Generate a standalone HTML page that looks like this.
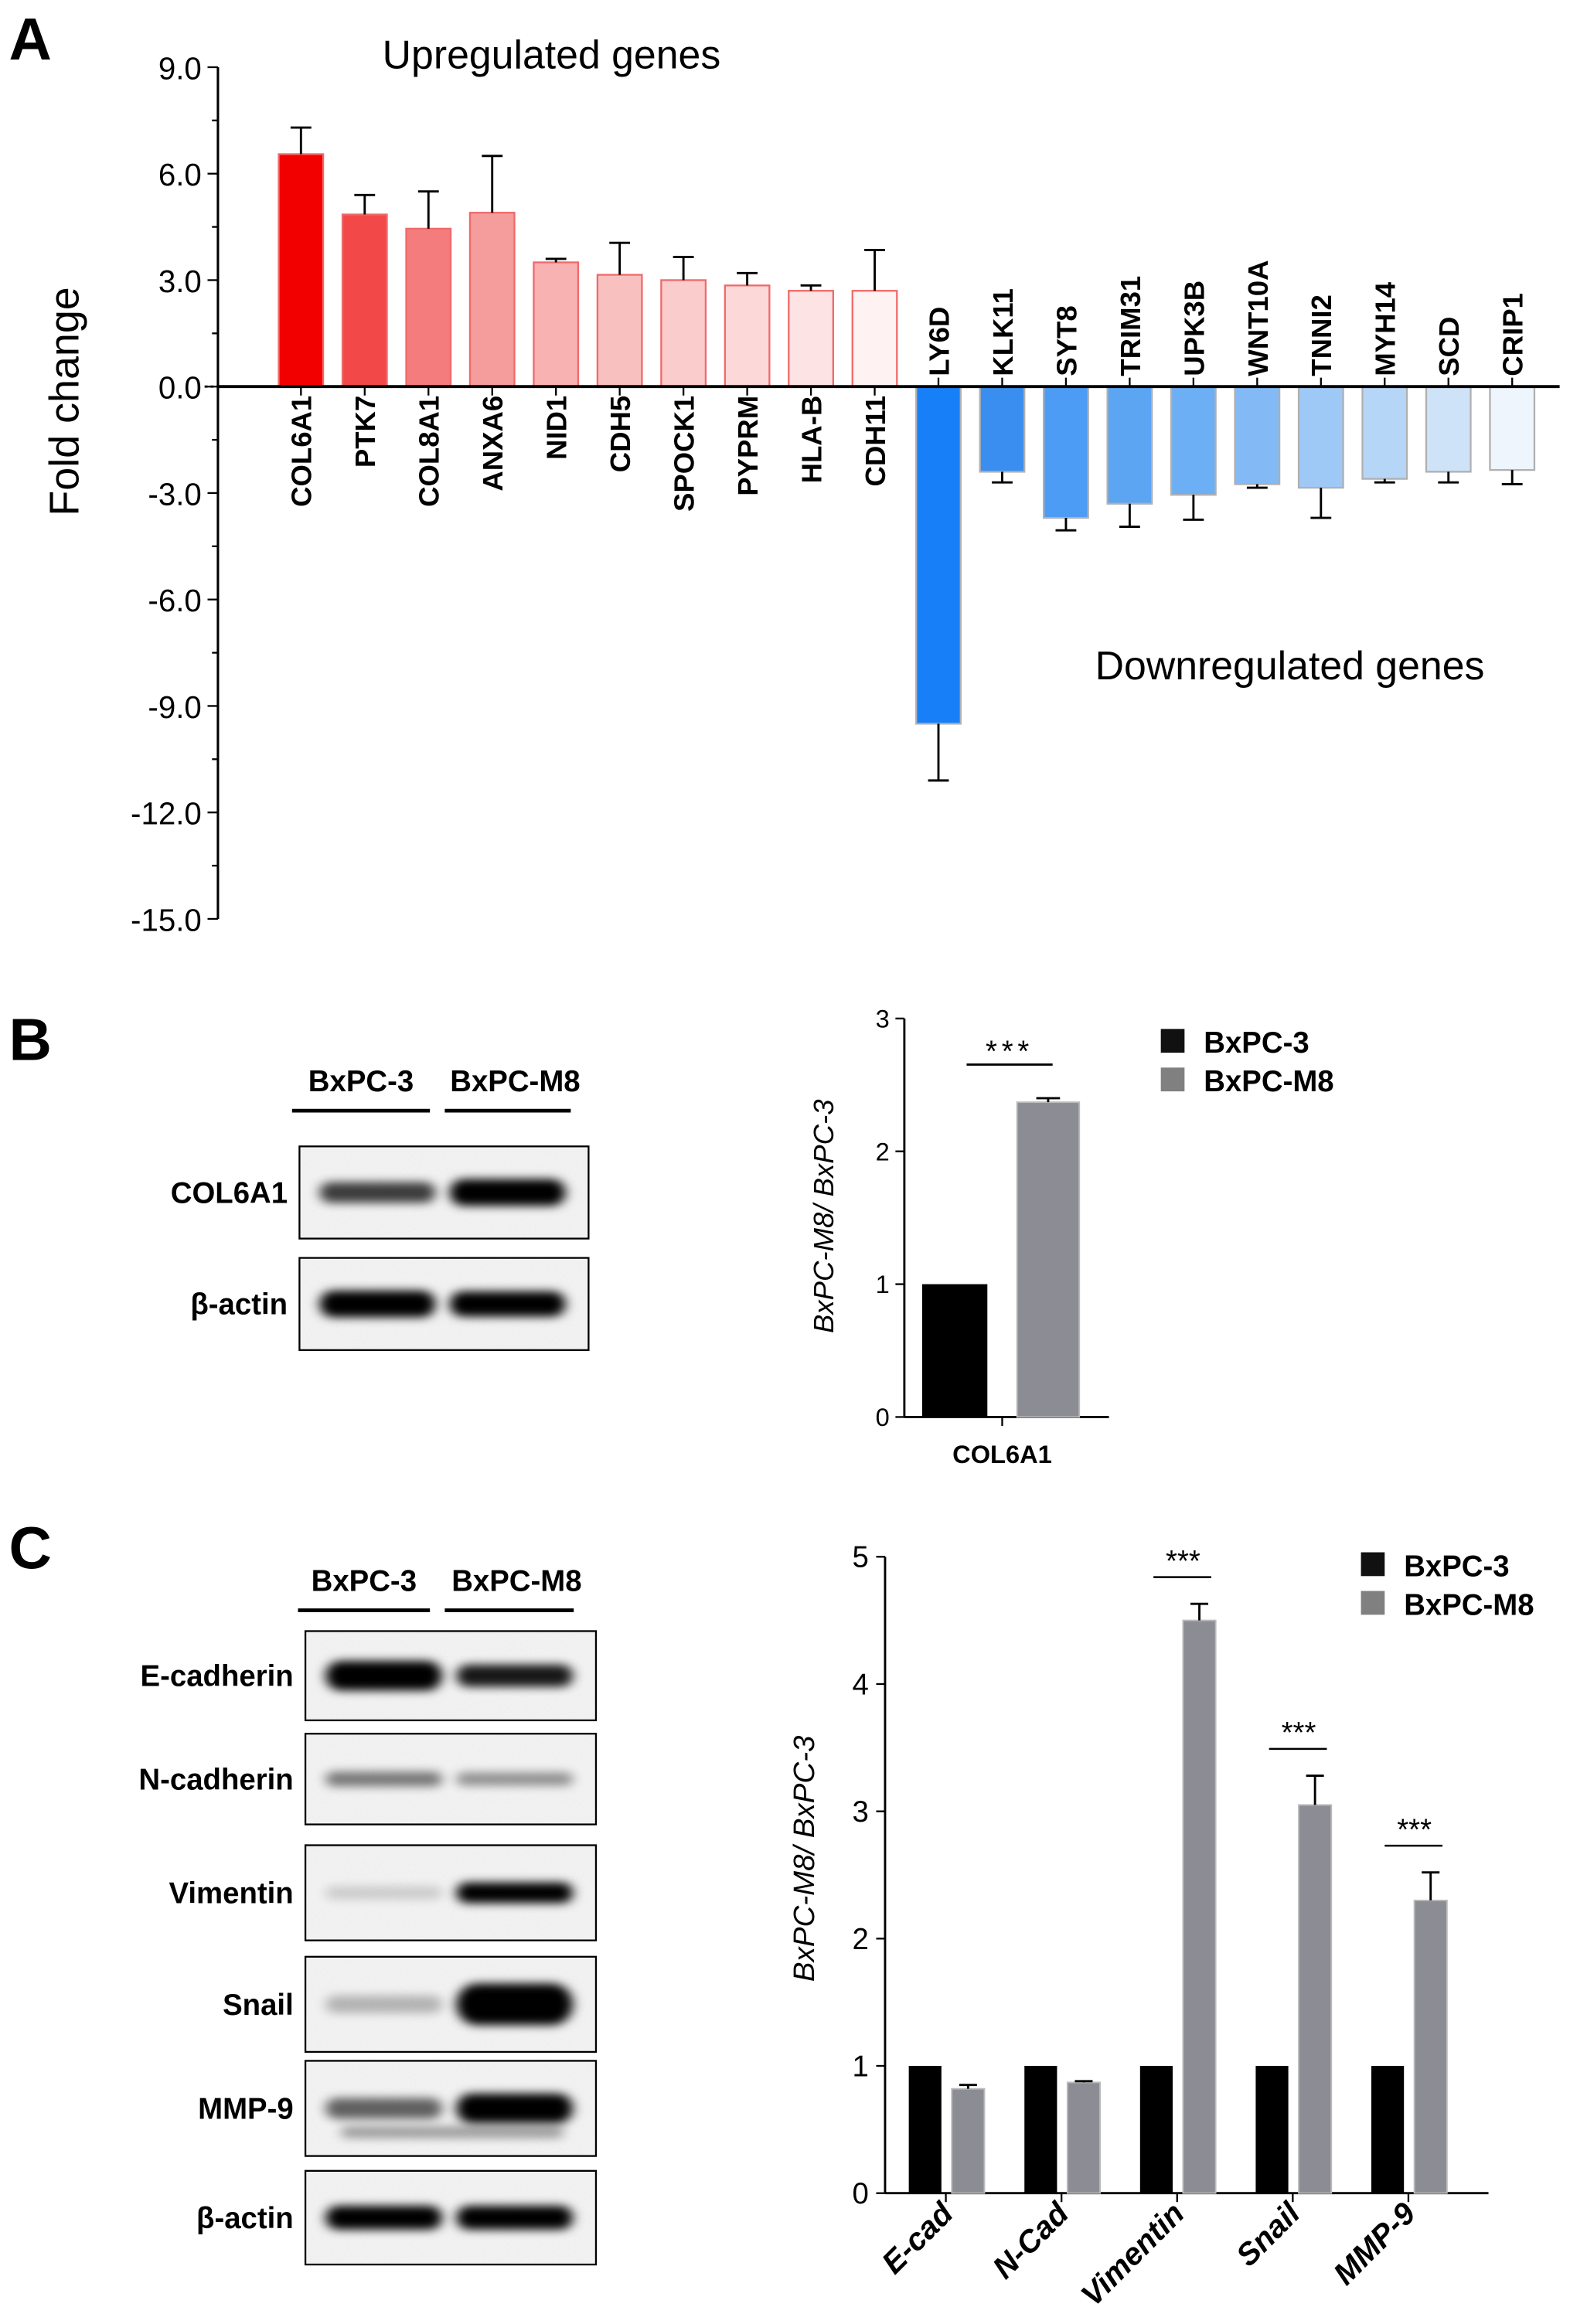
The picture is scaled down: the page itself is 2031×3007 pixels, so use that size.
<!DOCTYPE html>
<html><head><meta charset="utf-8"><style>
html,body{margin:0;padding:0;background:#fff;}
svg{display:block;font-family:"Liberation Sans",Arial,sans-serif;}
</style></head><body>
<svg id="fig" width="2031" height="3007" viewBox="0 0 1059 1563" preserveAspectRatio="none" xmlns="http://www.w3.org/2000/svg">
<defs>
<filter id="blur" x="-20%" y="-100%" width="140%" height="300%"><feGaussianBlur stdDeviation="4 3"/></filter>
<filter id="noise" x="0" y="0" width="1" height="1"><feTurbulence type="fractalNoise" baseFrequency="0.9" numOctaves="2" result="n"/><feColorMatrix type="matrix" values="0 0 0 0 0.5  0 0 0 0 0.5  0 0 0 0 0.5  0 0 0 0.12 0"/></filter>
</defs>
<g id="panelA"></g>
<g id="panelB"></g>
<g id="panelC"></g>
</svg>
<script>
// ---------- Panel A data ----------
const genesA = ["COL6A1","PTK7","COL8A1","ANXA6","NID1","CDH5","SPOCK1","PYPRM","HLA-B","CDH11","LY6D","KLK11","SYT8","TRIM31","UPK3B","WNT10A","TNNI2","MYH14","SCD","CRIP1"];
const foldA = [6.55,4.85,4.45,4.9,3.5,3.15,3.0,2.85,2.7,2.7,-9.5,-2.4,-3.7,-3.3,-3.05,-2.75,-2.85,-2.6,-2.4,-2.35];
const errA = [0.75,0.55,1.05,1.6,0.1,0.9,0.65,0.35,0.15,1.15,1.6,0.3,0.35,0.65,0.7,0.1,0.85,0.1,0.3,0.4];
const ticksA = [9,6,3,0,-3,-6,-9,-12,-15];
// ---------- Panel B data ----------
const catB = ["COL6A1"];
const ctrlB = [1.0];
const m8B = [2.37];
const m8ErrB = [0.03];
const ticksB = [0,1,2,3];
// ---------- Panel C data ----------
const catC = ["E-cad","N-Cad","Vimentin","Snail","MMP-9"];
const ctrlC = [1,1,1,1,1];
const m8C = [0.82,0.87,4.5,3.05,2.3];
const m8ErrC = [0.03,0.01,0.13,0.23,0.22];
const sigC = ["","","***","***","***"];
const ticksC = [0,1,2,3,4,5];

const NS="http://www.w3.org/2000/svg";
function mk(parent,tag,attrs,text){const e=document.createElementNS(NS,tag);for(const k in attrs)e.setAttribute(k,attrs[k]);if(text!==undefined)e.textContent=text;parent.appendChild(e);return e;}

// ================= Panel A =================
(function(){
const g=document.getElementById('panelA');
const yA=v=>260-v*(71.6/3);
const xA=i=>203+i*43;
let t=mk(g,'text',{x:6,y:40,'font-size':40,'font-weight':'bold'},'A');

mk(g,'line',{x1:147,y1:yA(9),x2:147,y2:yA(-15),stroke:'#000','stroke-width':1.6});
for(let v=9;v>=-15;v-=1.5){mk(g,'line',{x1:ticksA.includes(v)?140:143,y1:yA(v),x2:147,y2:yA(v),stroke:'#000','stroke-width':1.2});}
ticksA.forEach(v=>{t=mk(g,'text',{x:136,y:yA(v)+8,'font-size':21,'text-anchor':'end'},v.toFixed(1));
});
t=mk(g,'text',{transform:'translate(53,270) rotate(-90)','font-size':28,'text-anchor':'middle'},'Fold change');

mk(g,'line',{x1:138,y1:260,x2:150,y2:260,stroke:'#000','stroke-width':1.5,'stroke-dasharray':'2,2'});
const reds=["#f20000","#f34848","#f57c7c","#f59c9c","#f8b2b2","#f9c0c0","#fbcccc","#fcd8d8","#fde3e3","#fff2f2"];
const blues=["#1780f8","#3a8ef0","#4c9bf4","#5ca5f2","#6daff4","#83baf5","#9ec9f7","#b6d6f8","#cfe3f8","#eef5fc"];
genesA.forEach((n,i)=>{
 const v=foldA[i],e=errA[i],x=xA(i),up=v>=0;
 const col=up?reds[i]:blues[i-10];
 const r=mk(g,'rect',{x:x-15,y:Math.min(yA(v),260),width:30,height:Math.abs(yA(v)-260),fill:col,stroke:up?'#f06a6a':'#b0b0b0','stroke-width':1.2});
 
 const ye=yA(v+(up?e:-e));
 mk(g,'line',{x1:x,y1:yA(v),x2:x,y2:ye,stroke:'#000','stroke-width':1.5});
 mk(g,'line',{x1:x-7,y1:ye,x2:x+7,y2:ye,stroke:'#000','stroke-width':1.5});
 mk(g,'line',{x1:x,y1:260,x2:x,y2:up?266:254,stroke:'#000','stroke-width':1.2});
 let lt;
 if(up) lt=mk(g,'text',{transform:`translate(${x+7},266) rotate(-90)`,'font-size':19,'font-weight':'bold','text-anchor':'end'},n);
 else lt=mk(g,'text',{transform:`translate(${x+7},253) rotate(-90)`,'font-size':19,'font-weight':'bold','text-anchor':'start'},n);
 
});
mk(g,'line',{x1:147,y1:260,x2:1052,y2:260,stroke:'#000','stroke-width':2});
t=mk(g,'text',{x:372,y:46,'font-size':27,'text-anchor':'middle'},'Upregulated genes');

t=mk(g,'text',{x:870,y:457,'font-size':27,'text-anchor':'middle'},'Downregulated genes');

})();

// ================= Blot helper =================
function blot(g,x,y,w,h,label,b1,b2,extra){
 const grp=mk(g,'g',{});
 
 
 mk(grp,'rect',{x:x,y:y,width:w,height:h,fill:'#f4f4f4'});
 mk(grp,'rect',{x:x+1,y:y+1,width:w-2,height:h-2,filter:'url(#noise)'});
 const cy=y+h/2;
 [[x+w*0.27,b1],[x+w*0.72,b2]].forEach(([cx,s])=>{
   if(s[0]>0) mk(grp,'rect',{x:cx-w*0.2,y:cy-s[1]/2,width:w*0.4,height:s[1],rx:s[1]/2,fill:'#000',opacity:s[0],filter:'url(#blur)'});
 });
 if(extra) extra(grp,cy);
 mk(grp,'rect',{x:x,y:y,width:w,height:h,fill:'none',stroke:'#000','stroke-width':1.2});
 const t=mk(g,'text',{x:x-8,y:cy+7,'font-size':20,'font-weight':'bold','text-anchor':'end'},label);
 
}
function header(g,y,x1,x2,x3,x4){
 let t=mk(g,'text',{x:(x1+x2)/2,y:y,'font-size':20,'font-weight':'bold','text-anchor':'middle'},'BxPC-3');
 
 t=mk(g,'text',{x:(x3+x4)/2+5,y:y,'font-size':20,'font-weight':'bold','text-anchor':'middle'},'BxPC-M8');
 
 mk(g,'line',{x1:x1,y1:y+13,x2:x2,y2:y+13,stroke:'#000','stroke-width':2.5});
 mk(g,'line',{x1:x3,y1:y+13,x2:x4,y2:y+13,stroke:'#000','stroke-width':2.5});
}
function legend(g,x,y){
 [['#111','BxPC-3'],['#808080','BxPC-M8']].forEach(([c,l],i)=>{
  const r=mk(g,'rect',{x:x,y:y+i*26-8,width:16,height:16,fill:c});
  
  const t=mk(g,'text',{x:x+29,y:y+i*26+8,'font-size':20,'font-weight':'bold'},l);
  
 });
}

// ================= Panel B =================
(function(){
const g=document.getElementById('panelB');
let t=mk(g,'text',{x:6,y:713,'font-size':40,'font-weight':'bold'},'B');

header(g,734,197,290,300,385);
blot(g,202,771,195,62,'COL6A1',[0.75,14],[1,18]);
blot(g,202,846,195,62,'β-actin',[1,18],[1,17]);
const y0=953,ppu=(953-685)/3,ax=610;
const yB=v=>y0-v*ppu;
mk(g,'line',{x1:ax,y1:yB(3),x2:ax,y2:y0,stroke:'#000','stroke-width':1.5});
mk(g,'line',{x1:ax,y1:y0,x2:748,y2:y0,stroke:'#000','stroke-width':1.5});
ticksB.forEach(v=>{mk(g,'line',{x1:ax-6,y1:yB(v),x2:ax,y2:yB(v),stroke:'#000','stroke-width':1.2});
 t=mk(g,'text',{x:ax-10,y:yB(v)+6,'font-size':17,'text-anchor':'end'},String(v));
 });
t=mk(g,'text',{transform:'translate(562,818) rotate(-90)','font-size':19,'font-style':'italic','text-anchor':'middle'},'BxPC-M8/ BxPC-3');

catB.forEach((c,i)=>{
 const cx=676;
 let r=mk(g,'rect',{x:cx-54,y:yB(ctrlB[i]),width:44,height:y0-yB(ctrlB[i]),fill:'#000'});
 
 r=mk(g,'rect',{x:cx+10,y:yB(m8B[i]),width:42,height:y0-yB(m8B[i]),fill:'#8c8c94',stroke:'#bbb','stroke-width':1});
 
 const ye=yB(m8B[i]+m8ErrB[i]);
 mk(g,'line',{x1:cx+31,y1:yB(m8B[i]),x2:cx+31,y2:ye,stroke:'#000','stroke-width':1.5});
 mk(g,'line',{x1:cx+23,y1:ye,x2:cx+39,y2:ye,stroke:'#000','stroke-width':1.5});
 mk(g,'line',{x1:cx,y1:y0,x2:cx,y2:y0+6,stroke:'#000','stroke-width':1.2});
 t=mk(g,'text',{x:cx,y:y0+31,'font-size':17,'font-weight':'bold','text-anchor':'middle'},c);
 
 mk(g,'line',{x1:652,y1:716,x2:710,y2:716,stroke:'#000','stroke-width':1.5});
 t=mk(g,'text',{x:681,y:714,'font-size':20,'text-anchor':'middle','letter-spacing':3},'***');
 
});
legend(g,783,700);
})();

// ================= Panel C =================
(function(){
const g=document.getElementById('panelC');
let t=mk(g,'text',{x:6,y:1055,'font-size':40,'font-weight':'bold'},'C');

header(g,1070,201,290,300,387);
blot(g,206,1097,196,60,'E-cadherin',[1,20],[0.9,15]);
blot(g,206,1166,196,61,'N-cadherin',[0.5,10],[0.4,9]);
blot(g,206,1241,196,64,'Vimentin',[0.15,9],[1,14]);
blot(g,206,1316,196,64,'Snail',[0.25,12],[1,28]);
blot(g,206,1386,196,64,'MMP-9',[0.6,14],[1,20],(grp,cy)=>{
 mk(grp,'rect',{x:230,y:cy+12,width:150,height:8,rx:4,fill:'#000',opacity:0.35,filter:'url(#blur)'});});
blot(g,206,1460,196,63,'β-actin',[1,16],[1,16]);
const y0=1475,ppu=(1475-1047)/5;
const yC=v=>y0-v*ppu;
mk(g,'line',{x1:597,y1:yC(5),x2:597,y2:y0,stroke:'#000','stroke-width':1.5});
mk(g,'line',{x1:597,y1:y0,x2:1004,y2:y0,stroke:'#000','stroke-width':1.5});
ticksC.forEach(v=>{mk(g,'line',{x1:591,y1:yC(v),x2:597,y2:yC(v),stroke:'#000','stroke-width':1.2});
 t=mk(g,'text',{x:586,y:yC(v)+7,'font-size':20,'text-anchor':'end'},String(v));
 });
t=mk(g,'text',{transform:'translate(549,1250) rotate(-90)','font-size':20,'font-style':'italic','text-anchor':'middle'},'BxPC-M8/ BxPC-3');

catC.forEach((c,i)=>{
 const cx=638+i*78;
 let r=mk(g,'rect',{x:cx-25,y:yC(ctrlC[i]),width:22,height:y0-yC(ctrlC[i]),fill:'#000'});
 
 r=mk(g,'rect',{x:cx+4,y:yC(m8C[i]),width:22,height:y0-yC(m8C[i]),fill:'#8c8c94',stroke:'#bbb','stroke-width':1});
 
 const ye=yC(m8C[i]+m8ErrC[i]);
 mk(g,'line',{x1:cx+15,y1:yC(m8C[i]),x2:cx+15,y2:ye,stroke:'#000','stroke-width':1.5});
 mk(g,'line',{x1:cx+9,y1:ye,x2:cx+21,y2:ye,stroke:'#000','stroke-width':1.5});
 mk(g,'line',{x1:cx,y1:y0,x2:cx,y2:y0+6,stroke:'#000','stroke-width':1.2});
 t=mk(g,'text',{transform:`translate(${cx+6},${y0+15}) rotate(-45)`,'font-size':21,'font-weight':'bold','font-style':'italic','text-anchor':'end'},c);
 
 if(sigC[i]){
  const ys=ye-18;
  mk(g,'line',{x1:cx-16,y1:ys,x2:cx+23,y2:ys,stroke:'#000','stroke-width':1.3});
  t=mk(g,'text',{x:cx+4,y:ys-4,'font-size':20,'text-anchor':'middle'},sigC[i]);
  
 }
});
legend(g,918,1052);
})();
</script>
</body></html>
